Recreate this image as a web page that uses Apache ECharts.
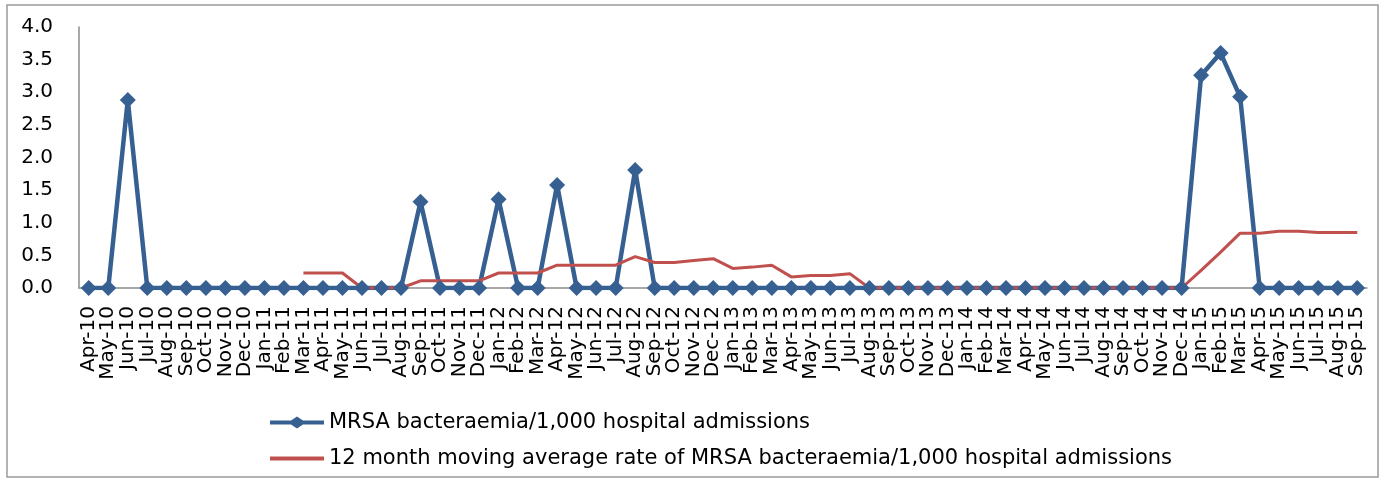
<!DOCTYPE html>
<html><head><meta charset="utf-8">
<script src="https://cdn.jsdelivr.net/npm/echarts@6/dist/echarts.min.js"></script>
<style>html,body{margin:0;padding:0;background:#fff}#c{width:1383px;height:479px}</style>
</head><body><div id="c"></div>
<script>
var categories = ["Apr-10","May-10","Jun-10","Jul-10","Aug-10","Sep-10","Oct-10","Nov-10","Dec-10","Jan-11","Feb-11","Mar-11",
"Apr-11","May-11","Jun-11","Jul-11","Aug-11","Sep-11","Oct-11","Nov-11","Dec-11","Jan-12","Feb-12","Mar-12",
"Apr-12","May-12","Jun-12","Jul-12","Aug-12","Sep-12","Oct-12","Nov-12","Dec-12","Jan-13","Feb-13","Mar-13",
"Apr-13","May-13","Jun-13","Jul-13","Aug-13","Sep-13","Oct-13","Nov-13","Dec-13","Jan-14","Feb-14","Mar-14",
"Apr-14","May-14","Jun-14","Jul-14","Aug-14","Sep-14","Oct-14","Nov-14","Dec-14","Jan-15","Feb-15","Mar-15",
"Apr-15","May-15","Jun-15","Jul-15","Aug-15","Sep-15"];
var mrsaRate = [0,0,2.88,0,0,0,0,0,0,0,0,0,
0,0,0,0,0,1.32,0,0,0,1.36,0,0,
1.58,0,0,0,1.81,0,0,0,0,0,0,0,
0,0,0,0,0,0,0,0,0,0,0,0,
0,0,0,0,0,0,0,0,0,3.26,3.60,2.93,
0,0,0,0,0,0];
var movingAvg = [null,null,null,null,null,null,null,null,null,null,null,0.23,
0.23,0.23,0,0,0,0.11,0.11,0.11,0.11,0.23,0.23,0.23,
0.35,0.35,0.35,0.35,0.48,0.39,0.39,0.42,0.45,0.30,0.32,0.35,
0.17,0.19,0.19,0.22,0,0,0,0,0,0,0,0,
0,0,0,0,0,0,0,0,0,0.27,0.55,0.84,
0.84,0.87,0.87,0.85,0.85,0.85];
var seriesNames = ["MRSA bacteraemia/1,000 hospital admissions","12 month moving average rate of MRSA bacteraemia/1,000 hospital admissions"];

var chart = echarts.init(document.getElementById('c'));
var font = 'DejaVu Sans';
chart.setOption({
  animation:false,
  textStyle:{fontFamily:font},
  graphic:[{type:'rect',shape:{x:7,y:5,width:1371,height:472},style:{fill:'none',stroke:'#9a9a9a',lineWidth:1.5},silent:true}],
  grid:{left:79,right:16,top:27,bottom:191},
  legend:{
    orient:'vertical',left:265,top:407,itemWidth:54,itemHeight:12,itemGap:15,
    textStyle:{fontFamily:font,fontSize:21,color:'#000'},
    data:[
      {name:seriesNames[0],icon:'path://M0,4 L21,4 L27,0 L33,4 L54,4 L54,8 L33,8 L27,12 L21,8 L0,8 Z'},
      {name:seriesNames[1],icon:'path://M0,4 L54,4 L54,8 L0,8 Z'}
    ]
  },
  xAxis:{type:'category',data:categories,boundaryGap:true,
    axisLine:{lineStyle:{color:'#8c8c8c',width:1.5}},
    axisTick:{show:false},
    axisLabel:{rotate:90,interval:0,fontSize:20,color:'#000',margin:18,fontFamily:font}
  },
  yAxis:{type:'value',min:0,max:4,interval:0.5,
    axisLine:{show:true,lineStyle:{color:'#8c8c8c',width:1.5}},
    axisTick:{show:false},splitLine:{show:false},
    axisLabel:{fontSize:20,color:'#000',margin:26,fontFamily:font,formatter:function(v){return v.toFixed(1);}}
  },
  series:[
    {name:seriesNames[0],type:'line',data:mrsaRate,symbol:'diamond',symbolSize:16,
     lineStyle:{color:'#376092',width:4.5},itemStyle:{color:'#376092'}},
    {name:seriesNames[1],type:'line',data:movingAvg,symbol:'none',connectNulls:false,
     lineStyle:{color:'#C0504D',width:3},itemStyle:{color:'#C0504D'}}
  ]
});
</script></body></html>
